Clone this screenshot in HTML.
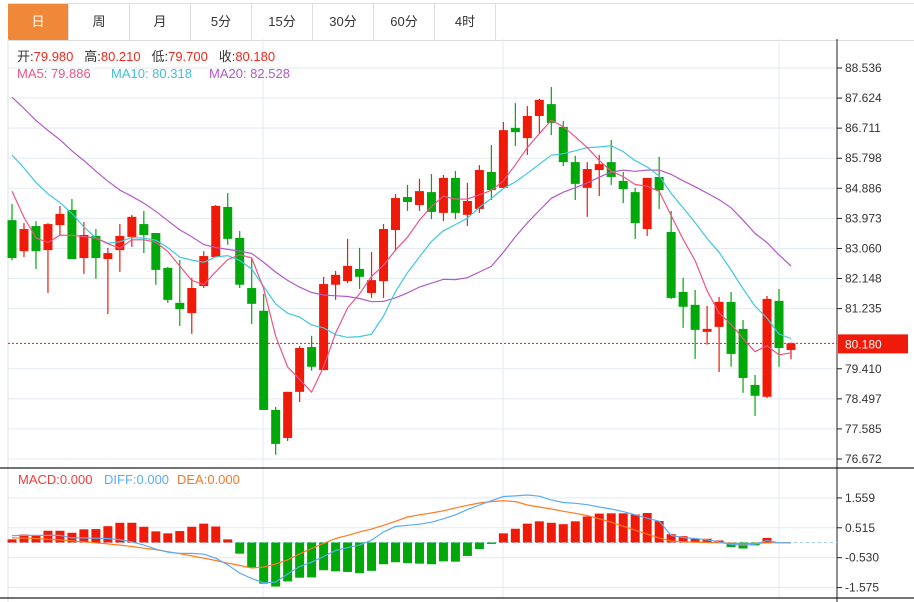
<!DOCTYPE html>
<html><head><meta charset="utf-8">
<style>
html,body{margin:0;padding:0;background:#fff;width:914px;height:602px;overflow:hidden;font-family:"Liberation Sans","Noto Sans CJK SC",sans-serif;}
#tabs{position:absolute;left:8px;top:3px;height:36px;width:906px;border-top:1px solid #ddd;border-bottom:1px solid #ddd;display:flex;}
.tab{width:60px;height:36px;line-height:36px;text-align:center;font-size:13px;color:#333;border-right:1px solid #ddd;cursor:pointer;}
.tab.on{background:#f0883a;color:#fff;}
svg{position:absolute;left:0;top:0;}
</style></head>
<body>
<div id="tabs">
<div class="tab on">日</div>
<div class="tab">周</div>
<div class="tab">月</div>
<div class="tab">5分</div>
<div class="tab">15分</div>
<div class="tab">30分</div>
<div class="tab">60分</div>
<div class="tab">4时</div>
</div>
<svg id="chart" width="914" height="602"></svg>
<script>
const opens=[83.92,82.98,83.74,83.01,83.77,84.23,82.77,83.44,82.74,83.01,83.41,83.80,83.53,82.47,81.41,81.10,81.92,82.80,84.32,83.38,81.86,81.17,78.16,77.31,78.71,80.07,79.37,81.96,82.07,82.44,81.71,82.07,83.62,84.62,84.38,84.77,84.14,85.20,84.08,84.26,85.38,84.90,86.72,86.41,87.08,87.44,86.75,85.68,84.90,85.44,85.68,85.11,84.77,83.65,85.23,83.56,81.74,81.35,80.53,80.68,81.44,80.62,78.92,78.56,81.47,79.98];
const highs=[84.41,83.83,83.89,83.83,84.35,84.56,83.86,83.65,83.08,83.80,84.08,84.20,83.53,82.50,82.71,82.17,82.98,84.38,84.74,83.59,82.77,81.68,78.25,78.71,80.10,80.41,82.20,82.38,83.35,83.08,82.95,83.80,84.71,84.99,85.17,85.32,85.29,85.41,85.05,85.59,86.20,86.90,87.47,87.38,87.60,87.96,86.93,85.87,85.68,85.90,86.35,85.38,84.90,85.20,85.84,84.20,82.17,81.80,81.32,81.59,81.74,80.89,79.22,81.62,81.83,80.21];
const lows=[82.70,82.80,82.44,81.71,83.47,82.74,82.29,82.14,81.07,82.35,83.11,82.92,81.96,81.41,80.71,80.47,81.86,82.80,83.17,81.86,80.77,78.16,76.80,77.22,78.40,79.35,79.37,81.50,82.01,81.83,81.56,81.56,82.98,84.20,84.20,83.95,83.89,83.95,83.74,84.14,84.53,84.90,86.17,85.90,86.56,86.50,85.56,84.53,84.02,84.65,84.99,84.44,83.35,83.44,84.26,81.53,80.65,79.71,80.14,79.31,79.47,78.68,77.98,78.52,79.47,79.70];
const closes=[82.77,83.65,82.98,83.80,84.11,82.74,83.47,82.77,82.92,83.44,84.02,83.47,82.41,81.50,81.22,81.86,82.83,84.35,83.35,81.96,81.38,78.16,77.13,78.71,80.04,79.47,81.98,82.26,82.53,82.20,82.10,83.65,84.59,84.47,84.80,84.17,85.20,84.14,84.50,85.44,84.83,86.65,86.59,87.08,87.57,86.87,85.68,85.02,85.47,85.62,85.23,84.86,83.83,85.20,84.83,81.56,81.29,80.59,80.62,81.44,79.86,79.13,78.59,81.53,80.04,80.18];
const priorCloses=[90.5,90.2,89.9,89.7,89.5,89.4,89.2,89.0,88.8,87.8,87.6,87.4,87.2,86.8,86.0,87.6,86.1,84.5,83.0];
const macdBars=[0.11,0.28,0.25,0.41,0.41,0.34,0.46,0.47,0.57,0.69,0.69,0.55,0.39,0.32,0.40,0.55,0.66,0.56,0.11,-0.39,-0.87,-1.44,-1.54,-1.36,-1.23,-1.22,-0.97,-1.01,-1.03,-1.07,-0.99,-0.76,-0.69,-0.72,-0.74,-0.76,-0.66,-0.67,-0.47,-0.23,-0.05,0.32,0.48,0.66,0.74,0.69,0.64,0.74,0.91,1.01,1.02,1.02,0.98,1.03,0.75,0.29,0.22,0.13,0.13,0.07,-0.16,-0.21,-0.10,0.16,0,0];
const diffLine=[0.24,0.25,0.25,0.25,0.25,0.16,0.16,0.15,0.14,0.10,0.02,-0.09,-0.23,-0.34,-0.38,-0.38,-0.41,-0.55,-0.78,-1.07,-1.26,-1.41,-1.38,-1.10,-0.84,-0.69,-0.49,-0.28,-0.18,-0.09,0.08,0.37,0.56,0.60,0.64,0.71,0.83,0.97,1.15,1.31,1.46,1.61,1.63,1.66,1.62,1.49,1.40,1.37,1.32,1.24,1.17,1.08,0.97,0.85,0.74,0.25,0.17,0.14,0.09,0.02,-0.07,-0.09,-0.06,0.07,-0.01,-0.01];
const deaLine=[0.16,0.15,0.14,0.11,0.09,0.06,0.02,-0.01,-0.05,-0.09,-0.14,-0.20,-0.25,-0.32,-0.39,-0.47,-0.55,-0.63,-0.72,-0.80,-0.89,-0.86,-0.75,-0.61,-0.40,-0.21,-0.03,0.14,0.25,0.37,0.47,0.60,0.74,0.89,0.97,1.03,1.11,1.21,1.30,1.38,1.43,1.46,1.43,1.31,1.24,1.17,1.09,1.02,0.94,0.83,0.71,0.57,0.43,0.29,0.16,0.05,0.02,0.01,0,-0.01,-0.02,-0.05,-0.03,-0.01,-0.01,-0.01];
const priceTicks=[88.536,87.624,86.711,85.798,84.886,83.973,83.060,82.148,81.235,80.323,79.410,78.497,77.585,76.672];
const macdTicks=[1.559,0.515,-0.530,-1.575];
const lastPrice=80.180;

const NS="http://www.w3.org/2000/svg";
const svg=document.getElementById('chart');
function mk(tag,attrs,parent){const e=document.createElementNS(NS,tag);for(const k in attrs)e.setAttribute(k,attrs[k]);(parent||svg).appendChild(e);return e;}
const RED="#f01a08",GREEN="#00a80a";
const PL=8,PR=837;
const xScale=i=>12+i*(779/65);
const yP=p=>68+(88.536-p)*(391/11.864);
const yM=v=>542.5-v*28.6;
const hiddenTick=t=>Math.abs(yP(t)-yP(lastPrice))<10;

const grid=mk('g',{});


priceTicks.forEach(t=>{if(hiddenTick(t))return;mk('line',{x1:PL,x2:PR,y1:yP(t),y2:yP(t),stroke:"#e3eaf0","stroke-width":1},grid);});
macdTicks.forEach(t=>mk('line',{x1:PL,x2:PR,y1:yM(t),y2:yM(t),stroke:"#e3eaf0","stroke-width":1},grid));
[263,503,779].forEach(x=>mk('line',{x1:x,x2:x,y1:39,y2:598,stroke:"#e3eaf0","stroke-width":1},grid));
mk('line',{x1:PL,x2:PL,y1:39,y2:602,stroke:"#dde3e8","stroke-width":1},grid);
mk('line',{x1:0,x2:914,y1:468,y2:468,stroke:"#222","stroke-width":1.2},grid);
mk('line',{x1:0,x2:914,y1:598,y2:598,stroke:"#222","stroke-width":1.2},grid);
mk('line',{x1:PR,x2:PR,y1:39,y2:602,stroke:"#222","stroke-width":1},grid);

const ax=mk('g',{});


priceTicks.forEach(t=>{if(hiddenTick(t))return;const y=yP(t);mk('line',{x1:PR,x2:PR+5,y1:y,y2:y,stroke:"#222"},ax);const tx=mk('text',{x:845,y:y+4,"font-size":12,fill:"#333"},ax);tx.textContent=t.toFixed(3);});
const ax2=mk('g',{});


macdTicks.forEach(t=>{const y=yM(t);mk('line',{x1:PR,x2:PR+5,y1:y,y2:y,stroke:"#222"},ax2);const tx=mk('text',{x:845,y:y+4,"font-size":12,fill:"#333"},ax2);tx.textContent=t.toFixed(3);});

const cg=mk('g',{});


closes.forEach((c,i)=>{
  const o=opens[i],up=c>=o,col=up?RED:GREEN,x=xScale(i);
  const g=mk('g',{},cg);
  
  
  mk('line',{x1:x,x2:x,y1:yP(highs[i]),y2:yP(lows[i]),stroke:col,"stroke-width":1.2},g);
  const t=yP(Math.max(o,c)),b=yP(Math.min(o,c));
  mk('rect',{x:x-4.5,y:t,width:9,height:Math.max(1,b-t),fill:col},g);
});

const all=priorCloses.concat(closes);
function ma(n){return closes.map((_,i)=>{const e=priorCloses.length+i;let s=0;for(let k=e-n+1;k<=e;k++)s+=all[k];return s/n;});}
function line(vals,sc,col,name){const p=mk('polyline',{points:vals.map((v,i)=>xScale(i).toFixed(1)+","+sc(v).toFixed(1)).join(" "),fill:"none",stroke:col,"stroke-width":1.2});return p;}
line(ma(20),yP,"#b25ac6","ma20-line");
line(ma(10),yP,"#40c8dc","ma10-line");
line(ma(5),yP,"#ee5486","ma5-line");

const lp=yP(lastPrice);
const pl=mk('line',{x1:PL,x2:PR,y1:lp,y2:lp,stroke:RED,"stroke-width":1,"stroke-dasharray":"2,2"});


const lb=mk('rect',{x:838,y:lp-9,width:70,height:19,fill:"#f01a08"});


const lt=mk('text',{x:845,y:lp+5,"font-size":12,fill:"#fff"});lt.textContent=lastPrice.toFixed(3);

const mz=mk('line',{x1:PL,x2:PR,y1:yM(0),y2:yM(0),stroke:"#a8d4ea","stroke-dasharray":"3,3"});


const mg=mk('g',{});


macdBars.forEach((v,i)=>{if(v===0)return;const x=xScale(i),y0=yM(0),y1=yM(v);const r=mk('rect',{x:x-4.5,y:Math.min(y0,y1),width:9,height:Math.abs(y1-y0),fill:v>0?RED:GREEN},mg);});
line(deaLine,yM,"#ff7b1e","dea-line");
line(diffLine,yM,"#5aacf5","diff-line");

function txt(x,y,parts,name){const t=mk('text',{x:x,y:y,"font-size":13});t.style.whiteSpace='pre';parts.forEach(([s,c])=>{const sp=mk('tspan',{fill:c},t);sp.textContent=s;});}
txt(17,61,[["开:","#333"],["79.980  ","#f0281e"],[" 高:","#333"],["80.210  ","#f0281e"],[" 低:","#333"],["79.700  ","#f0281e"],[" 收:","#333"],["80.180","#f0281e"]],"ohlc-legend");
txt(17,78,[["MA5: 79.886","#ee5486"]],"ma5-legend");
txt(111,78,[["MA10: 80.318","#40c0d8"]],"ma10-legend");
txt(209,78,[["MA20: 82.528","#b25ac6"]],"ma20-legend");
txt(18,484,[["MACD:0.000","#f03c3c"]],"macd-legend");
txt(104,484,[["DIFF:0.000","#5aacf5"]],"diff-legend");
txt(177,484,[["DEA:0.000","#f07a28"]],"dea-legend");
</script>
</body></html>
